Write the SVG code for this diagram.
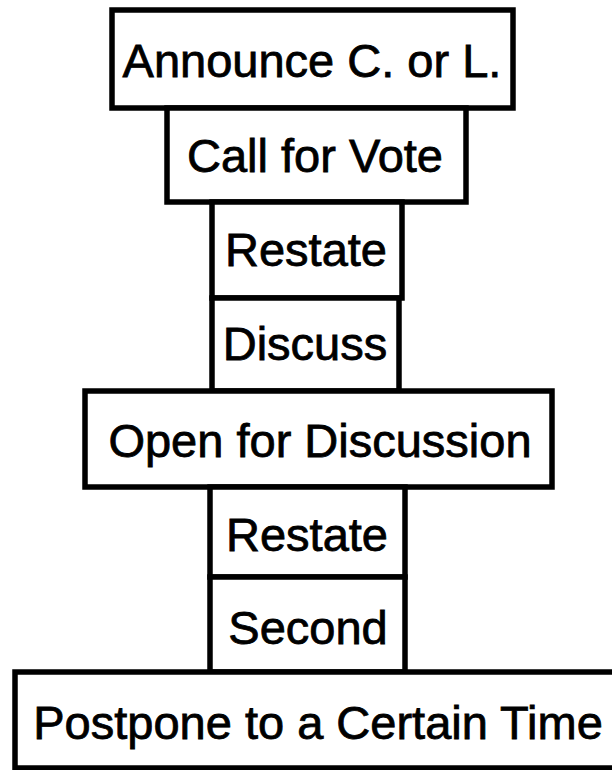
<svg xmlns="http://www.w3.org/2000/svg" width="612" height="770" viewBox="0 0 612 770">
<style>
  .box { fill: #ffffff; stroke: #000000; stroke-width: 5.5; }
  .lbl { font-family: "Liberation Sans", Arial, Helvetica, sans-serif; font-size: 47px; fill: #000000; stroke: #000000; stroke-width: 0.8; text-anchor: middle; }
</style>
<rect x="0" y="0" width="612" height="770" fill="#ffffff"/>
<g id="connectors"></g>
<g id="node-announce">
  <rect class="box" x="112" y="10" width="401" height="98"/>
  <text class="lbl" x="312" y="77">Announce C. or L.</text>
</g>
<g id="node-call-vote">
  <rect class="box" x="167" y="108" width="299" height="94"/>
  <text class="lbl" x="315" y="172">Call for Vote</text>
</g>
<g id="node-restate-1">
  <rect class="box" x="212" y="202" width="190" height="96"/>
  <text class="lbl" x="306" y="266">Restate</text>
</g>
<g id="node-discuss">
  <rect class="box" x="212" y="298" width="187" height="93"/>
  <text class="lbl" x="305" y="360">Discuss</text>
</g>
<g id="node-open">
  <rect class="box" x="85" y="391" width="467" height="96"/>
  <text class="lbl" x="320" y="457">Open for Discussion</text>
</g>
<g id="node-restate-2">
  <rect class="box" x="210" y="487" width="195" height="90"/>
  <text class="lbl" x="307" y="551">Restate</text>
</g>
<g id="node-second">
  <rect class="box" x="210" y="577" width="195" height="95"/>
  <text class="lbl" x="308" y="644">Second</text>
</g>
<g id="node-postpone">
  <rect class="box" x="15" y="672" width="610" height="96"/>
  <text class="lbl" x="318" y="739">Postpone to a Certain Time</text>
</g>
</svg>
